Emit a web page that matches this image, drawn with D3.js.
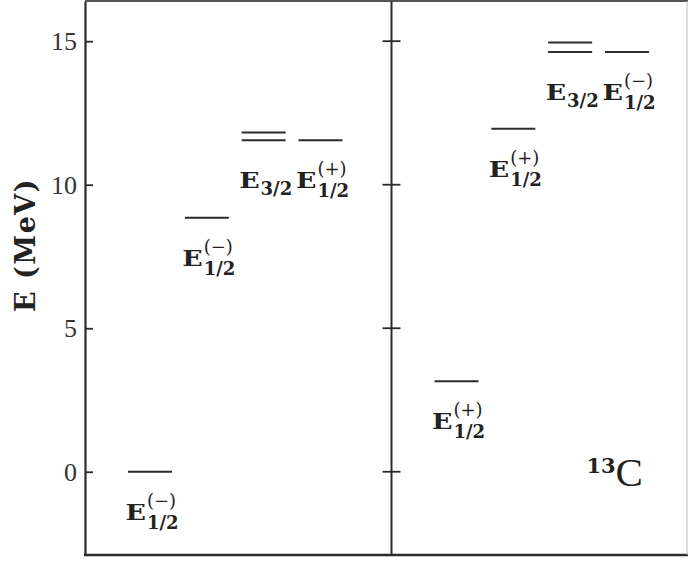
<!DOCTYPE html>
<html>
<head>
<meta charset="utf-8">
<script src="https://cdn.jsdelivr.net/npm/d3@7"></script>
<style>
  html, body { margin: 0; padding: 0; background: #fff; }
  svg { display: block; }
</style>
</head>
<body>
<svg id="chart" width="688" height="561"></svg>
<script>
(function() {
  'use strict';

  // energy axis ticks (MeV)
  var yTicks = [0, 5, 10, 15];

  // level energies per column; a column with two values is a doublet
  var leftEnergies = [[0.0], [8.85], [11.82, 11.55], [11.55]];
  var rightEnergies = [[3.15], [11.95], [14.95, 14.62], [14.62]];

  // label scripts per column
  var leftSubs = ['1/2', '1/2', '3/2', '1/2'];
  var leftSups = ['(\u2212)', '(\u2212)', '', '(+)'];
  var rightSubs = ['1/2', '1/2', '3/2', '1/2'];
  var rightSups = ['(+)', '(+)', '', '(\u2212)'];

  var nucleusMass = '13';
  var nucleusSymbol = 'C';
  var yLabel = 'E (MeV)';

  var svg = d3.select('#chart');
  var ink = '#2b2b2b';

  var y = d3.scaleLinear().domain([-2.9, 16.4]).range([555, 1]);
  var panelX = d3.scaleLinear().domain([0, 1]).range([85, 391.5]);
  var colX = d3.scaleLinear().domain([0, 3]).range([65, 235.5]);
  var halfLine = 22;
  var rightEdge = 687;
  var eStretch = 1.22;

  /**
   * Frame: left axis, top/bottom rules, panel divider.
   */
  var yAxis = d3.axisLeft(y).tickValues(yTicks).tickSize(-8).tickSizeOuter(0).tickPadding(8);
  var axisG = svg.append('g')
    .attr('transform', 'translate(' + panelX(0) + ',0)')
    .call(yAxis);
  axisG.select('.domain').attr('stroke', ink).attr('stroke-width', 2.2);
  axisG.selectAll('.tick line').attr('stroke', ink).attr('stroke-width', 1.8);
  axisG.selectAll('.tick text')
    .attr('fill', '#333')
    .style('font-family', '"Liberation Serif", serif')
    .style('font-size', '26px');

  svg.append('line')
    .attr('x1', panelX(0)).attr('x2', rightEdge + 1)
    .attr('y1', y.range()[1]).attr('y2', y.range()[1])
    .attr('stroke', '#555').attr('stroke-width', 2.2);
  svg.append('line')
    .attr('x1', panelX(0) - 1).attr('x2', rightEdge + 1)
    .attr('y1', y.range()[0]).attr('y2', y.range()[0])
    .attr('stroke', ink).attr('stroke-width', 2.4);

  svg.append('line')
    .attr('x1', panelX(1)).attr('x2', panelX(1))
    .attr('y1', y.range()[1]).attr('y2', y.range()[0])
    .attr('stroke', ink).attr('stroke-width', 2);
  svg.selectAll('.midtick')
    .data(yTicks)
    .enter().append('line')
    .attr('class', 'midtick')
    .attr('x1', panelX(1) - 9).attr('x2', panelX(1) + 9)
    .attr('y1', function(d) { return y(d); })
    .attr('y2', function(d) { return y(d); })
    .attr('stroke', ink).attr('stroke-width', 1.8);

  svg.append('line')
    .attr('x1', rightEdge).attr('x2', rightEdge)
    .attr('y1', y.range()[1]).attr('y2', y.range()[0])
    .attr('stroke', '#bbb').attr('stroke-width', 1);

  // axis title, centred between the 5 and 10 MeV ticks
  svg.append('text')
    .attr('transform', 'translate(35,' + y(7.9) + ') rotate(-90)')
    .attr('text-anchor', 'middle')
    .attr('fill', '#222')
    .style('font-family', '"DejaVu Serif", serif')
    .style('font-weight', 'bold')
    .style('font-size', '27px')
    .style('letter-spacing', '1.5px')
    .text(yLabel);

  /**
   * Levels and their labels, one panel at a time.
   */
  var panels = [
    {energies: leftEnergies, subs: leftSubs, sups: leftSups},
    {energies: rightEnergies, subs: rightSubs, sups: rightSups}
  ];

  panels.forEach(function(panel, p) {
    panel.energies.forEach(function(levels, c) {
      var cx = panelX(p) + colX(c);

      svg.selectAll(null)
        .data(levels)
        .enter().append('line')
        .attr('x1', cx - halfLine).attr('x2', cx + halfLine)
        .attr('y1', function(e) { return y(e); })
        .attr('y2', function(e) { return y(e); })
        .attr('stroke', ink).attr('stroke-width', 2);

      var baseY = y(d3.min(levels)) + 48;
      var label = svg.append('g')
        .attr('fill', '#222')
        .style('font-family', '"DejaVu Serif", serif')
        .style('font-weight', 'bold');
      var main = label.append('text')
        .attr('transform', 'scale(' + eStretch + ',1)')
        .style('font-size', '22px')
        .text('E');
      var w = main.node().getComputedTextLength() * eStretch + 1;
      var scriptW = 0;
      var sup = panel.sups[c];
      if (sup) {
        var supText = label.append('text')
          .attr('x', w).attr('y', -13)
          .style('font-size', '18px')
          .style('font-weight', 'normal')
          .text(sup);
        scriptW = Math.max(scriptW, supText.node().getComputedTextLength());
      }
      var subText = label.append('text')
        .attr('x', w).attr('y', sup ? 9 : 7)
        .style('font-size', '18px')
        .text(panel.subs[c]);
      scriptW = Math.max(scriptW, subText.node().getComputedTextLength());

      var total = w + scriptW;
      label.attr('transform', 'translate(' + (cx + 2 - total / 2) + ',' + baseY + ')');
    });
  });

  // nucleus tag
  var tag = svg.append('g').attr('fill', '#222');
  tag.append('text')
    .attr('x', panelX(1) + 195).attr('y', y(-0.03))
    .style('font-family', '"DejaVu Serif", serif')
    .style('font-weight', 'bold')
    .style('font-size', '21px')
    .text(nucleusMass);
  tag.append('text')
    .attr('x', panelX(1) + 224).attr('y', y(-0.48))
    .style('font-family', '"Liberation Serif", serif')
    .style('font-size', '41px')
    .text(nucleusSymbol);
})();
</script>
</body>
</html>
